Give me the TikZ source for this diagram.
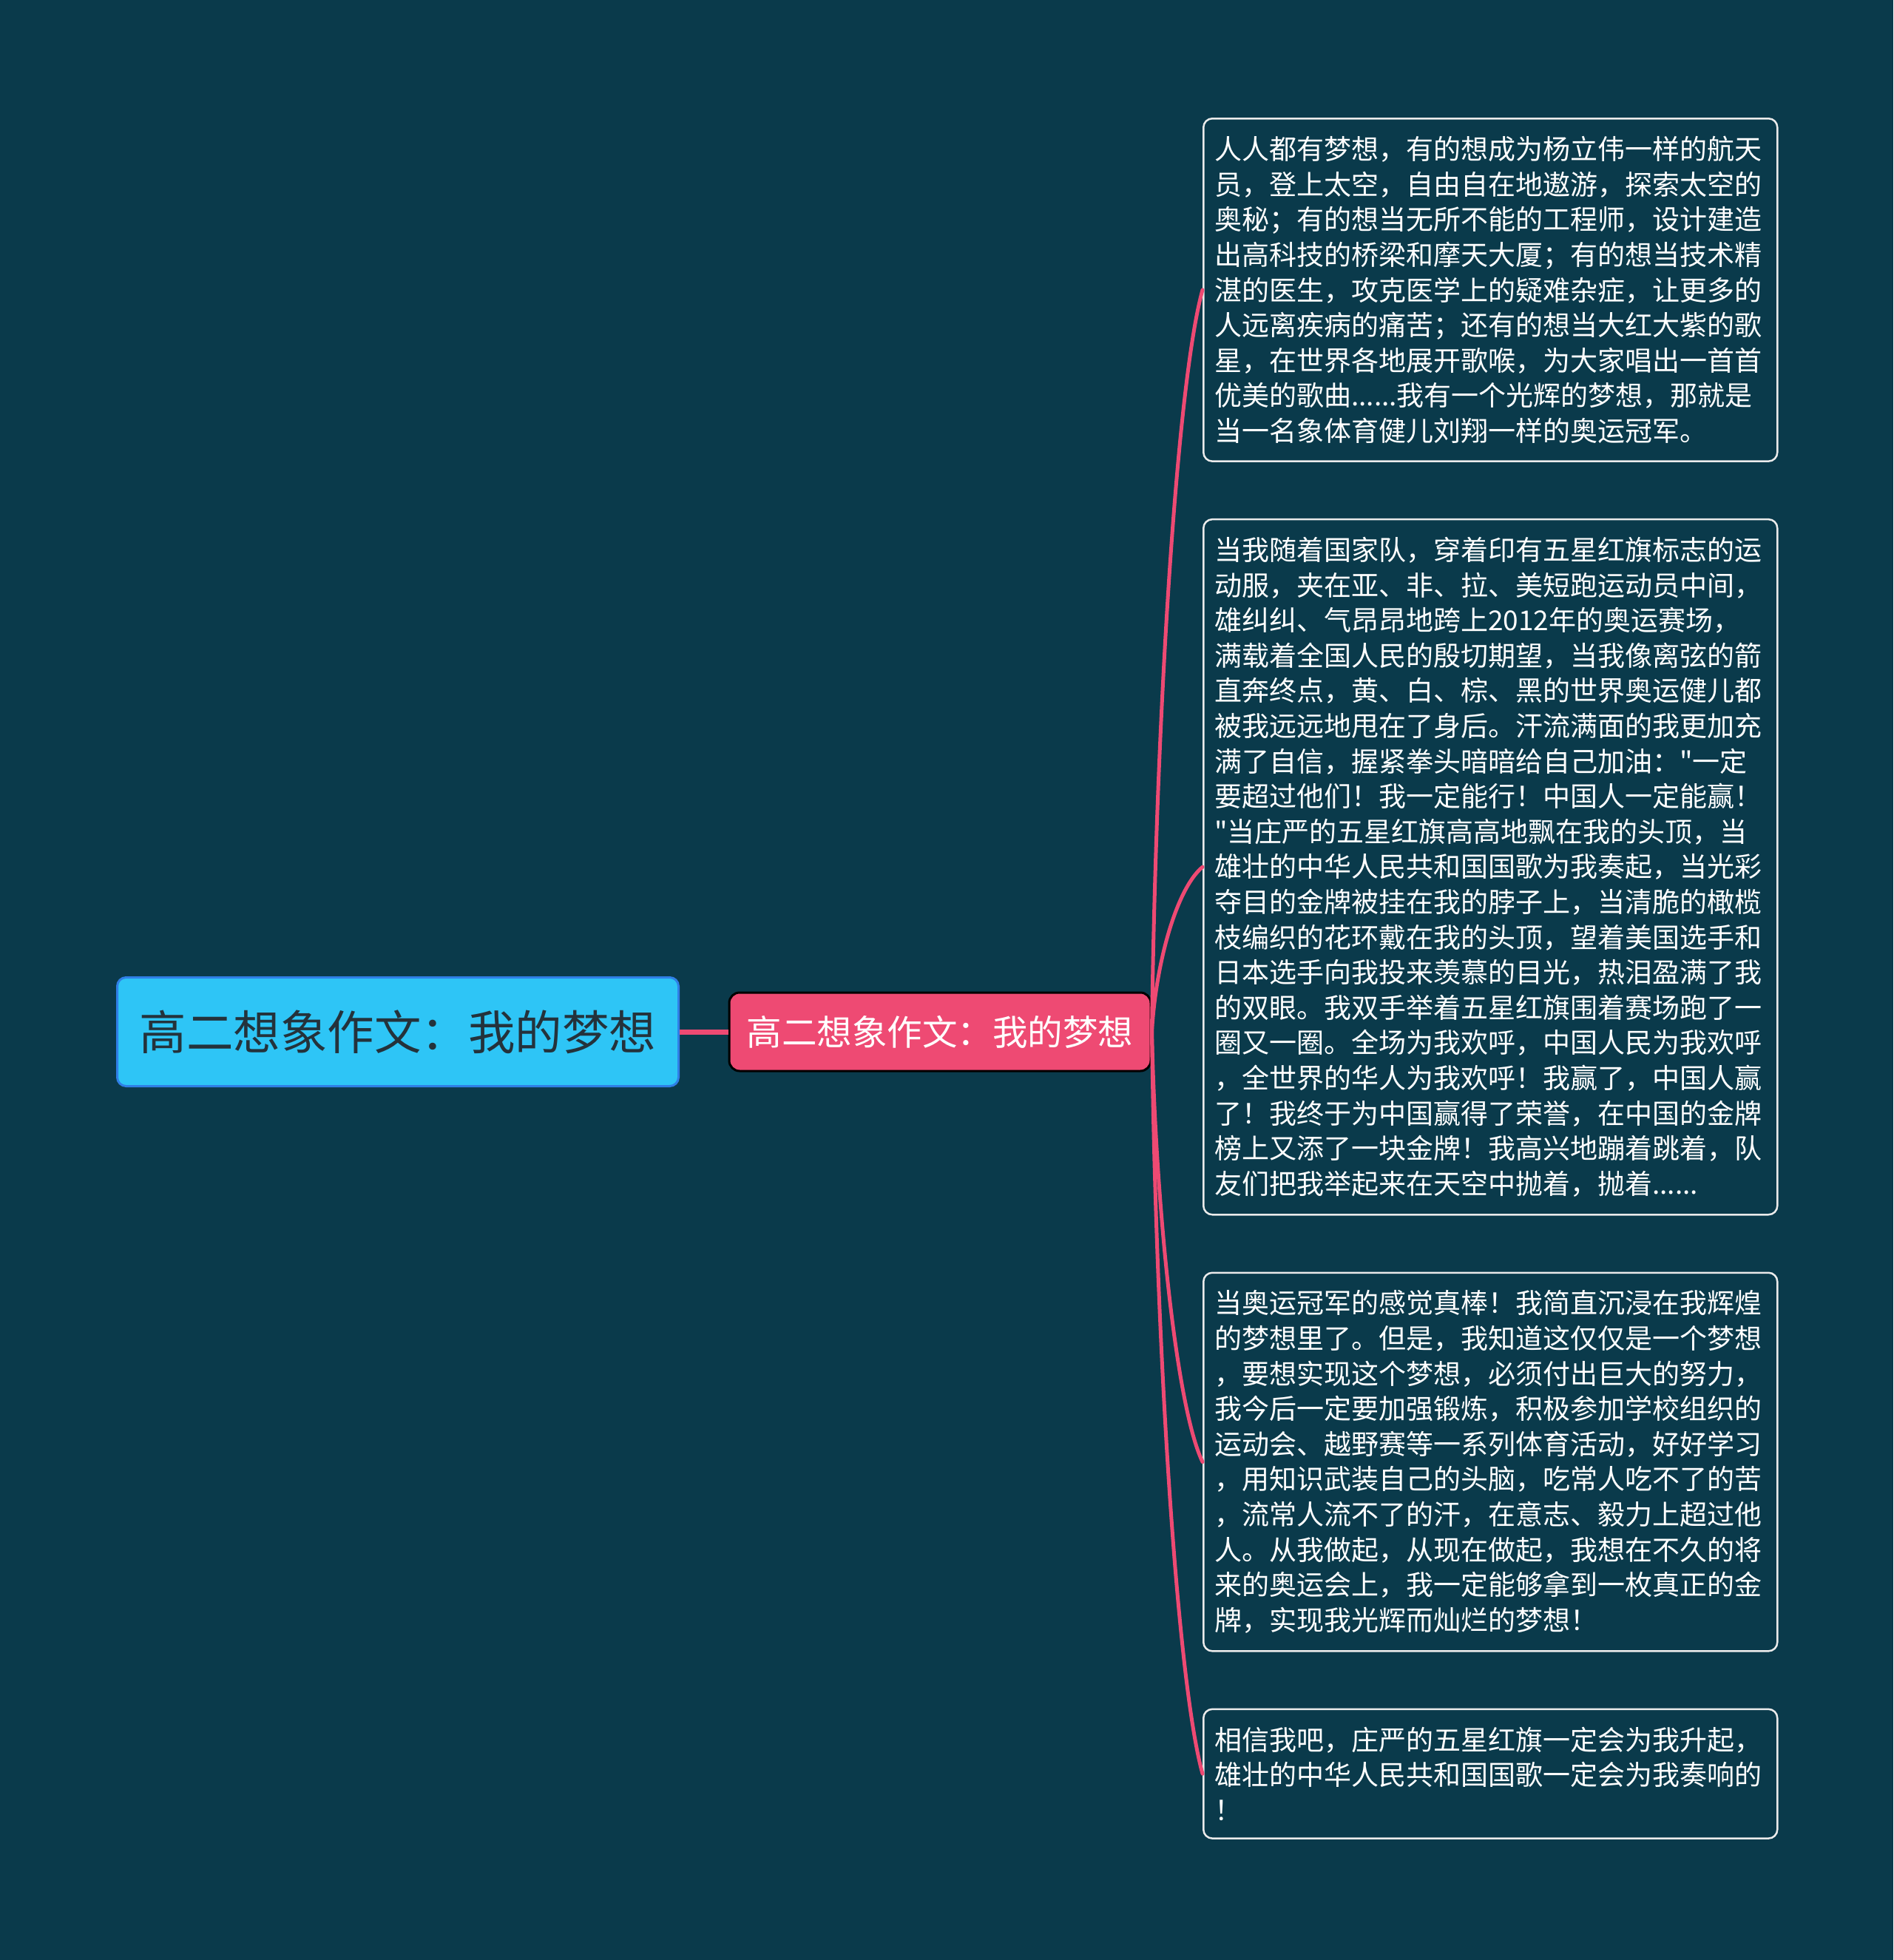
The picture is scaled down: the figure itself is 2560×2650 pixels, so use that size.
\documentclass[tikz,border=0pt]{standalone}
\usepackage{fontspec}
\newfontfamily\cjkfont{Noto Sans CJK SC}
\usetikzlibrary{positioning}
\definecolor{bgteal}{HTML}{0A3A4B}
\definecolor{rootcyan}{HTML}{2EC5F6}
\definecolor{rootedge}{HTML}{2F7FE6}
\definecolor{rootink}{HTML}{24323B}
\definecolor{topicpink}{HTML}{EE4A73}

\begin{document}
\begin{tikzpicture}[x=1pt, y=1pt,
 rootbox/.style = {draw=rootedge, line width=3pt, fill=rootcyan, rounded corners=12pt,
                   minimum width=759pt, minimum height=147pt, inner sep=0pt,
                   text=rootink, font=\cjkfont\fontsize{63.5}{70}\selectfont},
topicbox/.style = {draw=black, line width=3pt, fill=topicpink, rounded corners=14pt,
                   minimum width=570pt, minimum height=106pt, inner sep=0pt,
                   text=white, font=\cjkfont\fontsize{47.5}{52}\selectfont},
 leafbox/.style = {draw=white!92!black, line width=2.5pt, fill=bgteal, rounded corners=12pt,
                   text width=746pt, align=left, inner xsep=15pt, inner ysep=24pt,
                   text=white, font=\cjkfont\fontsize{37}{47.6}\selectfont},
  branch/.style = {draw=topicpink, line width=5pt, line cap=round}
                    ]
\fill[bgteal] (0,0) rectangle (2560,-2650);

\node (title) [rootbox]  at (538,-1395)  {高二想象作文：我的梦想};
\node (topic) [topicbox] at (1271,-1395) {高二想象作文：我的梦想};

\node (p1) [leafbox, anchor=north west] at (1626,-159)
{人人都有梦想，有的想成为杨立伟一样的航天\\
员，登上太空，自由自在地遨游，探索太空的\\
奥秘；有的想当无所不能的工程师，设计建造\\
出高科技的桥梁和摩天大厦；有的想当技术精\\
湛的医生，攻克医学上的疑难杂症，让更多的\\
人远离疾病的痛苦；还有的想当大红大紫的歌\\
星，在世界各地展开歌喉，为大家唱出一首首\\
优美的歌曲......我有一个光辉的梦想，那就是\\
当一名象体育健儿刘翔一样的奥运冠军。};

\node (p2) [leafbox, below=76pt of p1.south west, anchor=north west]
{当我随着国家队，穿着印有五星红旗标志的运\\
动服，夹在亚、非、拉、美短跑运动员中间，\\
雄纠纠、气昂昂地跨上2012年的奥运赛场，\\
满载着全国人民的殷切期望，当我像离弦的箭\\
直奔终点，黄、白、棕、黑的世界奥运健儿都\\
被我远远地甩在了身后。汗流满面的我更加充\\
满了自信，握紧拳头暗暗给自己加油："一定\\
要超过他们！我一定能行！中国人一定能赢！\\
"当庄严的五星红旗高高地飘在我的头顶，当\\
雄壮的中华人民共和国国歌为我奏起，当光彩\\
夺目的金牌被挂在我的脖子上，当清脆的橄榄\\
枝编织的花环戴在我的头顶，望着美国选手和\\
日本选手向我投来羡慕的目光，热泪盈满了我\\
的双眼。我双手举着五星红旗围着赛场跑了一\\
圈又一圈。全场为我欢呼，中国人民为我欢呼\\
，全世界的华人为我欢呼！我赢了，中国人赢\\
了！我终于为中国赢得了荣誉，在中国的金牌\\
榜上又添了一块金牌！我高兴地蹦着跳着，队\\
友们把我举起来在天空中抛着，抛着......};

\node (p3) [leafbox, below=76pt of p2.south west, anchor=north west]
{当奥运冠军的感觉真棒！我简直沉浸在我辉煌\\
的梦想里了。但是，我知道这仅仅是一个梦想\\
，要想实现这个梦想，必须付出巨大的努力，\\
我今后一定要加强锻炼，积极参加学校组织的\\
运动会、越野赛等一系列体育活动，好好学习\\
，用知识武装自己的头脑，吃常人吃不了的苦\\
，流常人流不了的汗，在意志、毅力上超过他\\
人。从我做起，从现在做起，我想在不久的将\\
来的奥运会上，我一定能够拿到一枚真正的金\\
牌，实现我光辉而灿烂的梦想！};

\node (p4) [leafbox, below=76pt of p3.south west, anchor=north west]
{相信我吧，庄严的五星红旗一定会为我升起，\\
雄壮的中华人民共和国国歌一定会为我奏响的\\
！};

% links
\draw[topicpink, line width=7pt] (title.east) -- (topic.west);
\draw[branch] (topic.east) .. controls +(5,400)  and +(-36,-130) .. (p1.west);
\draw[branch] (topic.east) .. controls +(5,90)   and +(-36,-30)  .. (p2.west);
\draw[branch] (topic.east) .. controls +(5,-230) and +(-36,75)   .. (p3.west);
\draw[branch] (topic.east) .. controls +(5,-400) and +(-36,130)  .. (p4.west);
\end{tikzpicture}
\end{document}
